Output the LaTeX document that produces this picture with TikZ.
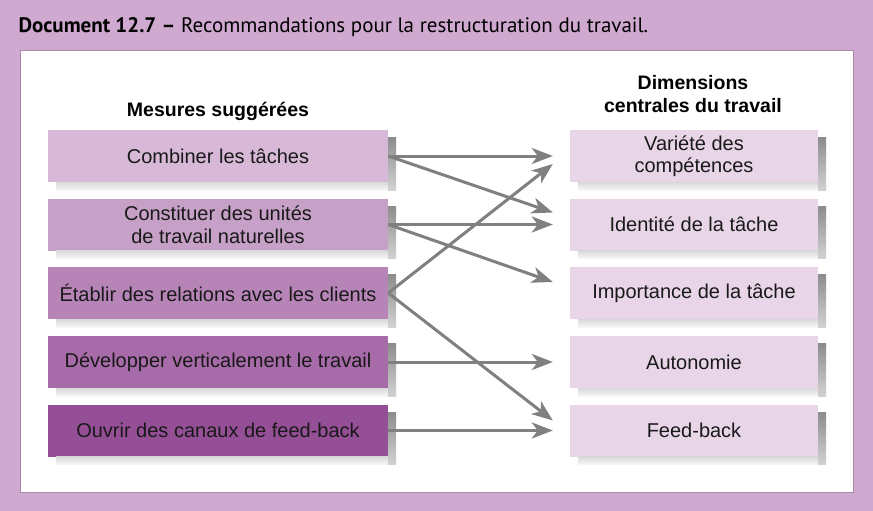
\documentclass[tikz,border=0pt]{standalone}
\usepackage{fontspec}
\setmainfont{Liberation Sans}
\newfontfamily\titlefont{PT Sans}
\usetikzlibrary{arrows.meta}
\definecolor{fond}{HTML}{CFA9CF}
\definecolor{cadre}{HTML}{A98AA9}
\definecolor{mesA}{HTML}{D7B9D7}
\definecolor{mesB}{HTML}{C7A0C7}
\definecolor{mesC}{HTML}{B784B8}
\definecolor{mesD}{HTML}{A66BA8}
\definecolor{mesE}{HTML}{954F97}
\definecolor{dimfill}{HTML}{E8D6E8}
\definecolor{fleche}{HTML}{808080}
\tikzset{
  mesure/.style={minimum width=340pt, minimum height=52pt, inner sep=0pt, align=center,
    text=black!90, font=\fontsize{20}{22.5}\selectfont},
  dimension/.style={mesure, minimum width=248pt, fill=dimfill},
  entete/.style={align=center, font=\bfseries\fontsize{19.5}{23}\selectfont},
  lien/.style={draw=fleche, line width=3pt, -{Stealth[length=21pt,width=16pt,inset=6pt]}},
}
\begin{document}
\begin{tikzpicture}[x=1pt,y=-1pt]
  \fill[fond] (0,0) rectangle (873,511);
  \draw[cadre, fill=white, line width=1pt] (20,51) rectangle (853,492);
  \node[anchor=west, font=\titlefont\fontsize{21}{24}\selectfont] (titre) at (15,27)
    {\textbf{Document 12.7 –} Recommandations pour la restructuration du travail.};

  % titres des colonnes
  \node[entete] (mesures) at (218,111) {Mesures suggérées};
  \node[entete] (dimensions) at (693,94) {Dimensions\\centrales du travail};

  % mesures
  \node[mesure, fill=mesA] (comb) at (218,156) {Combiner les tâches};
  \node[mesure, fill=mesB] (cons) at (218,224.5) {Constituer des unités\\de travail naturelles};
  \node[mesure, fill=mesC] (etab) at (218,293) {Établir des relations avec les clients};
  \node[mesure, fill=mesD] (deve) at (218,362) {Développer verticalement le travail};
  \node[mesure, fill=mesE] (ouvr) at (218,430.5) {Ouvrir des canaux de feed-back};

  % dimensions
  \node[dimension] (vari) at (694,156) {Variété des\\compétences};
  \node[dimension] (iden) at (694,224.5) {Identité de la tâche};
  \node[dimension] (impo) at (694,293) {Importance de la tâche};
  \node[dimension] (auto) at (694,362) {Autonomie};
  \node[dimension] (feed) at (694,430.5) {Feed-back};

  % ombres
  \foreach \n in {comb,cons,etab,deve,ouvr,vari,iden,impo,auto,feed} {
    \shade[top color=gray!30, bottom color=gray!6]
      ([xshift=8pt]\n.south west) rectangle ([xshift=8pt,yshift=-8pt]\n.south east);
    \shade[top color=gray!90, bottom color=gray!35]
      ([yshift=-8pt]\n.north east) rectangle ([xshift=8pt,yshift=-8pt]\n.south east);
  }

  \draw[lien] (comb.east) -- ([xshift=-17pt]vari.west);
  \draw[lien] (comb.east) -- ([xshift=-17pt,yshift=12pt]iden.west);
  \draw[lien] (cons.east) -- ([xshift=-17pt]iden.west);
  \draw[lien] (cons.east) -- ([xshift=-17pt,yshift=11pt]impo.west);
  \draw[lien] (etab.east) -- ([xshift=-17pt,yshift=-8pt]vari.west);
  \draw[lien] (etab.east) -- ([xshift=-17pt,yshift=10pt]feed.west);
  \draw[lien] (deve.east) -- ([xshift=-17pt]auto.west);
  \draw[lien] (ouvr.east) -- ([xshift=-17pt]feed.west);
\end{tikzpicture}
\end{document}
